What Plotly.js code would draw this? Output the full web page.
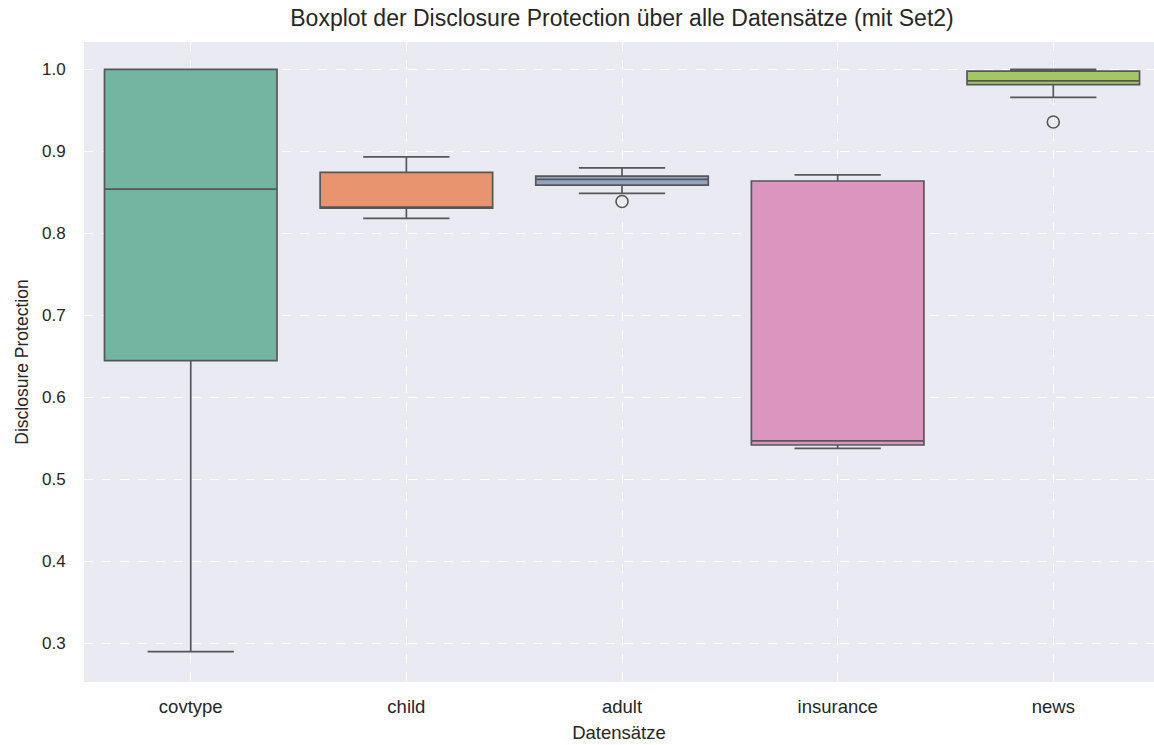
<!DOCTYPE html>
<html>
<head>
<meta charset="utf-8">
<script src="https://cdn.plot.ly/plotly-3.0.1.min.js"></script>
<style>html,body{margin:0;padding:0;background:#fff;}#chart{width:1154px;height:745px;}</style>
</head>
<body>
<div id="chart"></div>
<script>
const categories = ["covtype", "child", "adult", "insurance", "news"];
const q1Values = [0.645, 0.831, 0.859, 0.542, 0.9815];
const medianValues = [0.854, 0.832, 0.866, 0.547, 0.986];
const q3Values = [1.0, 0.8745, 0.870, 0.864, 0.998];
const lowerWhisker = [0.290, 0.8185, 0.849, 0.538, 0.966];
const upperWhisker = [1.0, 0.8935, 0.880, 0.8715, 1.0];
const outlierCats = ["adult", "news"];
const outlierValues = [0.839, 0.936];
const colors = ["#72b6a1", "#e8956f", "#95a3c3", "#db96c0", "#a2c764"];

const lineColor = "#575757";
const traces = categories.map((c, i) => ({
  type: "box",
  x: [c],
  q1: [q1Values[i]],
  median: [medianValues[i]],
  q3: [q3Values[i]],
  lowerfence: [lowerWhisker[i]],
  upperfence: [upperWhisker[i]],
  fillcolor: colors[i],
  line: {color: lineColor, width: 1.7},
  width: 0.8,
  whiskerwidth: 0.5,
  boxpoints: false,
  showlegend: false,
  hoverinfo: "skip"
}));
traces.push({
  type: "scatter",
  mode: "markers",
  x: outlierCats,
  y: outlierValues,
  marker: {symbol: "circle-open", size: 12, color: lineColor, line: {width: 1.6, color: lineColor}},
  showlegend: false,
  hoverinfo: "skip"
});

const layout = {
  width: 1154, height: 745,
  margin: {l: 84, r: 0, t: 42, b: 63},
  paper_bgcolor: "#ffffff",
  plot_bgcolor: "#eaeaf2",
  font: {family: "Liberation Sans, Arial, sans-serif", size: 17, color: "#262626"},
  title: {text: "Boxplot der Disclosure Protection über alle Datensätze (mit Set2)", xref: "container", x: 622 / 1154, xanchor: "center", y: 0.976, yanchor: "middle", font: {size: 23, color: "#262626"}},
  boxmode: "overlay",
  xaxis: {
    type: "category",
    categoryorder: "array",
    categoryarray: categories,
    range: [-0.495, 4.467],
    showgrid: true, gridcolor: "#ffffff", griddash: "dash", gridwidth: 1,
    zeroline: false, showline: false,
    ticks: "outside", ticklen: 8, tickcolor: "rgba(0,0,0,0)",
    tickfont: {size: 18.5},
    title: {text: "Datensätze", font: {size: 18.5}, standoff: 9}
  },
  yaxis: {
    range: [0.253, 1.0335],
    tickvals: [0.3, 0.4, 0.5, 0.6, 0.7, 0.8, 0.9, 1.0],
    ticktext: ["0.3", "0.4", "0.5", "0.6", "0.7", "0.8", "0.9", "1.0"],
    showgrid: true, gridcolor: "#ffffff", griddash: "dash", gridwidth: 1,
    zeroline: false, showline: false,
    ticks: "outside", ticklen: 14, tickcolor: "rgba(0,0,0,0)",
    tickfont: {size: 17},
    title: {text: "Disclosure Protection", font: {size: 17.5}, standoff: 8}
  }
};

Plotly.newPlot("chart", traces, layout, {displayModeBar: false, staticPlot: true});
</script>
</body>
</html>
